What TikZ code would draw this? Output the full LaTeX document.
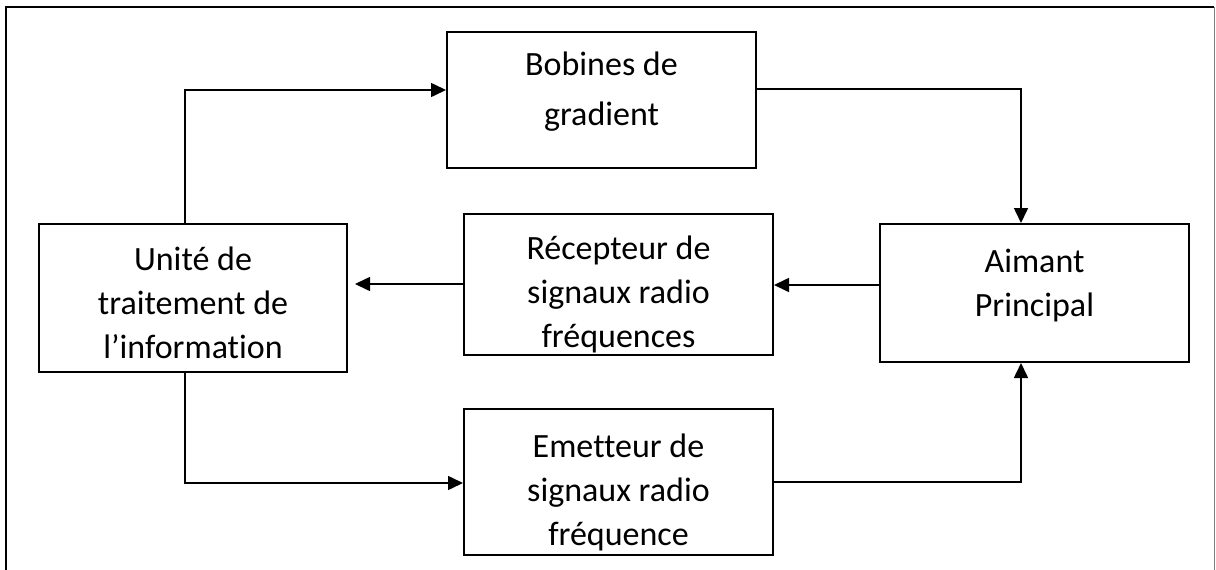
\documentclass[tikz,border=0pt]{standalone}
\usepackage{fontspec}
\setmainfont{Carlito}[Ligatures=NoCommon]
\usetikzlibrary{arrows.meta}
\begin{document}
\begin{tikzpicture}[x=1pt,y=-1pt,
  blk/.style={draw=black, line width=2pt, minimum width=309pt, inner sep=0pt},
  txt/.style={anchor=north, inner sep=0pt, align=center, font=\fontsize{34}{44}\selectfont},
  arr/.style={line width=1.6pt, -{Triangle[length=15pt,width=14pt]}},
  frame/.style={line width=2pt}]
\useasboundingbox (0,0) rectangle (1216,570);
% outer frame
\draw[frame] (6,580) -- (6,7) -- (1214,7);
\draw[line width=1pt, gray] (1214,7) -- (1214,580);
% boxes
\node[blk, minimum height=136pt] (b) at (601.5,100) {};
\node[blk, minimum width=308pt, minimum height=148pt] (u) at (193,298) {};
\node[blk, minimum height=141pt] (r) at (618.5,284.5) {};
\node[blk, minimum height=138pt] (a) at (1034.5,293) {};
\node[blk, minimum height=146pt] (e) at (618.5,482) {};
% texts
\node[txt, font=\fontsize{34}{50}\selectfont] (bt) at ([yshift=-21pt]b.north) {Bobines de\\gradient};
\node[txt] (ut) at ([yshift=-24pt]u.north) {Unité de\\traitement de\\l’information};
\node[txt] (rt) at ([yshift=-23pt]r.north) {Récepteur de\\signaux radio\\fréquences};
\node[txt] (at) at ([yshift=-26pt]a.north) {Aimant\\Principal};
\node[txt] (et) at ([yshift=-26pt]e.north) {Emetteur de\\signaux radio\\fréquence};
% coordinates for connector bends
\coordinate (ub) at (185,0);
\coordinate (ac) at (1021,0);
% connectors
\draw[arr] (u.north -| ub) |- ([yshift=10pt]b.west);
\draw[arr] ([yshift=11pt]b.east) -| (a.north -| ac);
\draw[arr] ([yshift=8pt]a.west) -- ([yshift=-0.5pt]r.east);
\draw[arr] ([yshift=0.5pt]r.west) -- ([xshift=7pt,yshift=14pt]u.east);
\draw[arr] (u.south -| ub) |- ([yshift=-1pt]e.west);
\draw[arr] (e.east) -| (a.south -| ac);
\end{tikzpicture}
\end{document}
